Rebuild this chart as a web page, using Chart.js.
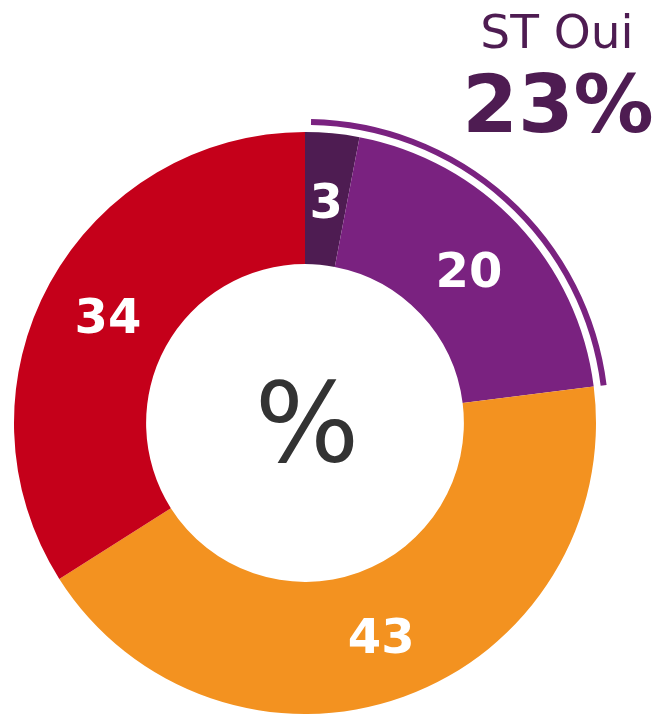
<!DOCTYPE html>
<html>
<head>
<meta charset="utf-8">
<script src="https://cdn.jsdelivr.net/npm/chart.js@4/dist/chart.umd.min.js"></script>
<style>
  html, body { margin: 0; padding: 0; background: #fff; }
  #wrap { width: 658px; height: 714px; }
</style>
</head>
<body>
<div id="wrap"><canvas id="donut" width="658" height="714"></canvas></div>
<script>
// Données
const categories = ['ST Oui (part 1)', 'ST Oui (part 2)', 'Orange', 'Rouge'];
const valeurs = [3, 20, 43, 34];
const couleurs = ['#4e1c52', '#7a2280', '#f39220', '#c5001a'];
const titreLabel = 'ST Oui';
const titreValeur = '23%';
const centreTexte = '%';
// index des parts entourées par l'arc extérieur
const partsST = [0, 1];

const FONT = '"DejaVu Sans", sans-serif';

// Dessine les valeurs, le texte central, le titre et l'arc extérieur
const donutExtras = {
  id: 'donutExtras',
  afterDatasetsDraw(chart) {
    const ctx = chart.ctx;
    const arcs = chart.getDatasetMeta(0).data;

    ctx.save();
    ctx.textAlign = 'center';
    ctx.textBaseline = 'middle';

    // valeurs des parts
    ctx.fillStyle = '#ffffff';
    ctx.font = 'bold 48px ' + FONT;
    arcs.forEach((arc, i) => {
      const p = arc.tooltipPosition();
      ctx.fillText(valeurs[i], p.x, p.y + 6);
    });

    // texte central
    const c = arcs[0];
    ctx.fillStyle = '#333333';
    ctx.font = '110px ' + FONT;
    ctx.fillText(centreTexte, c.x + 2, c.y + 9);

    // arc extérieur autour des parts ST
    const first = arcs[partsST[0]];
    const last = arcs[partsST[partsST.length - 1]];
    ctx.beginPath();
    ctx.strokeStyle = couleurs[1];
    ctx.lineWidth = 6;
    ctx.arc(c.x, c.y, c.outerRadius + 10, first.startAngle + 0.02, last.endAngle);
    ctx.stroke();

    // titre
    ctx.fillStyle = '#4e1c52';
    ctx.textBaseline = 'alphabetic';
    ctx.font = '47px ' + FONT;
    ctx.fillText(titreLabel, 557, 48);
    ctx.font = 'bold 80px ' + FONT;
    ctx.fillText(titreValeur, 558, 132);
    ctx.restore();
  }
};

new Chart(document.getElementById('donut').getContext('2d'), {
  type: 'doughnut',
  data: {
    labels: categories,
    datasets: [{
      data: valeurs,
      backgroundColor: couleurs,
      borderWidth: 0
    }]
  },
  options: {
    responsive: false,
    animation: false,
    cutout: '54.6%',
    layout: { padding: { top: 132, left: 14, right: 62, bottom: 0 } },
    plugins: {
      legend: { display: false },
      tooltip: { enabled: false }
    }
  },
  plugins: [donutExtras]
});
</script>
</body>
</html>
